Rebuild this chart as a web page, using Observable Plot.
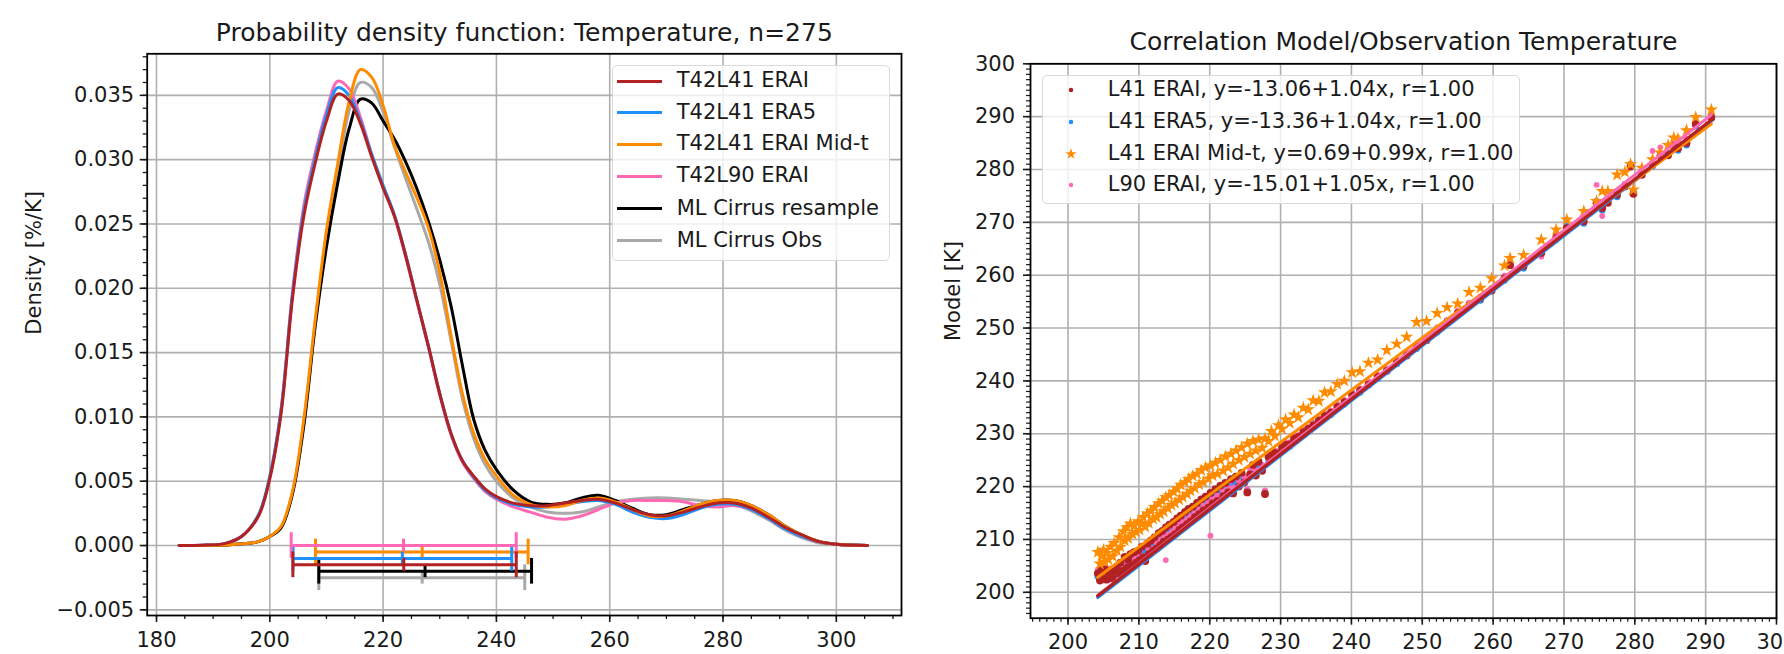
<!DOCTYPE html>
<html><head><meta charset="utf-8">
<script src="https://cdn.jsdelivr.net/npm/d3@7"></script>
<script src="https://cdn.jsdelivr.net/npm/@observablehq/plot@0.6"></script>
<style>
body{margin:0;background:#fff;}
#root{position:relative;width:1784px;height:654px;overflow:hidden;font-family:"DejaVu Sans",sans-serif;background:#fff;}
.plot{position:absolute;top:0;}
.plot svg{display:block;max-width:none;}
.legend{position:absolute;border:1.5px solid #dadada;border-radius:5px;background:rgba(255,255,255,0.8);box-sizing:border-box;}
.item{position:absolute;left:0;height:0;}
.item span{position:absolute;top:0;font-size:21px;line-height:1;color:#1a1a1a;white-space:nowrap;transform:translateY(-52%);}
.item i{position:absolute;display:block;}
</style></head><body><div id="root"></div>
<script>
// ---------- Left panel data ----------
const seriesNames = ["T42L41 ERAI", "T42L41 ERA5", "T42L41 ERAI Mid-t", "T42L90 ERAI", "ML Cirrus resample", "ML Cirrus Obs"];
const seriesColors = ["#b22222", "#1e90ff", "#ff8c00", "#ff69b4", "#000000", "#a9a9a9"];
const tGrid = [184, 188, 192, 195, 198, 200, 202, 204, 206, 208, 210, 212, 214, 216, 218, 220, 222, 224, 226, 228, 230, 232, 234, 236, 238, 240, 243, 246, 249, 252, 255, 258, 261, 264, 267, 270, 273, 276, 279, 282, 285, 288, 291, 294, 297, 300, 305.5];
const pdfERAI = [0, 0.00002, 0.00015, 0.0007, 0.0023, 0.0052, 0.0103, 0.0192, 0.0256, 0.0297, 0.033, 0.0351, 0.0346, 0.0328, 0.0302, 0.0278, 0.0256, 0.0225, 0.019, 0.0155, 0.0118, 0.0087, 0.0066, 0.0054, 0.0044, 0.0038, 0.0033, 0.0031, 0.0031, 0.0033, 0.0035, 0.0036, 0.0033, 0.0028, 0.0024, 0.0023, 0.0026, 0.003, 0.0033, 0.0033, 0.0029, 0.0022, 0.0014, 0.0008, 0.0003, 0.0001, 0];
const pdfERA5 = [0, 0.00002, 0.00015, 0.0007, 0.0024, 0.0054, 0.0106, 0.0195, 0.026, 0.0301, 0.0335, 0.0356, 0.035, 0.033, 0.0304, 0.028, 0.0257, 0.0226, 0.019, 0.0155, 0.0118, 0.0087, 0.0066, 0.0053, 0.0043, 0.0037, 0.0032, 0.003, 0.003, 0.0032, 0.0034, 0.0035, 0.0032, 0.0026, 0.0022, 0.0021, 0.0024, 0.0029, 0.0032, 0.0032, 0.0028, 0.0021, 0.0013, 0.0007, 0.0003, 0.0001, 0];
const pdfMidT = [0, 0.00001, 0.00003, 0.00013, 0.0003, 0.0007, 0.0015, 0.0042, 0.0098, 0.0175, 0.0245, 0.0297, 0.0345, 0.037, 0.0364, 0.0342, 0.0311, 0.029, 0.027, 0.0247, 0.0212, 0.0163, 0.0118, 0.0087, 0.0067, 0.0054, 0.0039, 0.0032, 0.003, 0.0031, 0.0035, 0.0037, 0.0034, 0.0028, 0.0023, 0.0023, 0.0027, 0.0032, 0.0035, 0.0035, 0.0031, 0.0024, 0.0015, 0.0008, 0.0003, 0.0001, 0];
const pdfL90 = [0, 0.00002, 0.00015, 0.0007, 0.0023, 0.0053, 0.0106, 0.0197, 0.0264, 0.0305, 0.0338, 0.0361, 0.0355, 0.0333, 0.0304, 0.0279, 0.0256, 0.0224, 0.0189, 0.0154, 0.0117, 0.0086, 0.0065, 0.0052, 0.0042, 0.0036, 0.003, 0.0026, 0.0022, 0.00205, 0.0023, 0.0028, 0.0033, 0.0035, 0.0035, 0.0035, 0.0034, 0.0031, 0.003, 0.0031, 0.0028, 0.0021, 0.0013, 0.0007, 0.0003, 0.0001, 0];
const pdfResample = [0, 0.00001, 0.00003, 0.00013, 0.0003, 0.0007, 0.0014, 0.004, 0.0093, 0.017, 0.0232, 0.0282, 0.0324, 0.0347, 0.0344, 0.033, 0.0316, 0.0298, 0.0277, 0.0252, 0.0222, 0.0186, 0.014, 0.0098, 0.0074, 0.0059, 0.0043, 0.0034, 0.0032, 0.0033, 0.0037, 0.0039, 0.0035, 0.0029, 0.0024, 0.0024, 0.0028, 0.0032, 0.0035, 0.0035, 0.0031, 0.0024, 0.0015, 0.0008, 0.0003, 0.0001, 0];
const pdfObs = [0, 0.00001, 0.00003, 0.00013, 0.0003, 0.0007, 0.0014, 0.0041, 0.0095, 0.0172, 0.024, 0.029, 0.0338, 0.036, 0.0356, 0.0337, 0.031, 0.0285, 0.0261, 0.0236, 0.0203, 0.0159, 0.0114, 0.0083, 0.0063, 0.005, 0.0037, 0.003, 0.0026, 0.0025, 0.0026, 0.003, 0.0034, 0.0036, 0.0037, 0.0037, 0.0036, 0.0035, 0.0034, 0.0032, 0.0027, 0.002, 0.0012, 0.0006, 0.0002, 0.0001, 0];
// range bars (low, median, high) per series, drawn at a vertical offset
const rangeLow = [204.07, 204.1, 208.07, 203.78, 208.65, 208.65];
const rangeMid = [223.65, 223.4, 226.9, 223.6, 227.4, 226.9];
const rangeHigh = [243.5, 242.7, 245.6, 243.5, 246.2, 245.0];
const rangeOffset = [-0.0015, -0.001, -0.0005, 0, -0.002, -0.0025];
const leftTitle = "Probability density function: Temperature, n=275";
const leftYLabel = "Density [%/K]";
const leftXTicks = [180, 200, 220, 240, 260, 280, 300];
const leftXMinor = d3.range(180, 311, 5);
const leftYTicks = [-0.005, 0, 0.005, 0.01, 0.015, 0.02, 0.025, 0.03, 0.035];
const leftYMinor = d3.range(-5, 39).map(v => v / 1000);

// ---------- Right panel data ----------
const scatterLabels = ["L41 ERAI, y=-13.06+1.04x, r=1.00", "L41 ERA5, y=-13.36+1.04x, r=1.00", "L41 ERAI Mid-t, y=0.69+0.99x, r=1.00", "L90 ERAI, y=-15.01+1.05x, r=1.00"];
const scatterColors = ["#b22222", "#1e90ff", "#ff8c00", "#ff69b4"];
const fitIntercept = [-13.06, -13.36, 0.69, -15.01];
const fitSlope = [1.04, 1.04, 0.99, 1.05];
const obsT = [
204.2, 204.5, 204.7, 205.0, 205.2, 205.5, 205.7, 206.0, 206.3, 206.5,
206.9, 207.2, 207.4, 207.8, 208.0, 208.3, 208.5, 208.8, 209.1, 209.3,
209.6, 209.9, 210.1, 210.4, 210.6, 210.9, 211.2, 211.4, 211.7, 212.0,
212.2, 212.5, 212.8, 213.0, 213.3, 213.5, 213.8, 214.1, 214.3, 214.6,
214.9, 215.1, 215.4, 215.7, 215.9, 216.2, 216.5, 216.8, 217.0, 217.3,
217.6, 217.9, 218.2, 218.5, 218.8, 219.1, 219.4, 219.8, 220.1, 220.4,
220.8, 221.1, 221.5, 221.9, 222.2, 222.6, 223.0, 223.3, 223.7, 224.1,
224.5, 224.9, 225.3, 225.7, 226.1, 226.5, 226.9, 227.4, 227.8, 228.3,
228.7, 229.2, 229.7, 230.2, 230.7, 231.3, 231.9, 232.5, 233.2, 233.9,
234.6, 235.4, 236.2, 237.1, 238.0, 239.0, 240.1, 241.2, 242.4, 243.7,
245.0, 246.4, 247.8, 249.2, 250.6, 252.1, 253.5, 255.0, 256.6, 258.2,
259.8, 261.6, 262.4, 264.3, 266.8, 268.9, 270.4, 272.8, 274.6, 275.4,
276.2, 277.5, 278.6, 279.4, 279.8, 281.0, 282.5, 283.6, 284.7, 285.5,
286.1, 287.3, 288.6, 290.8];
const modelERAI = [
203.6, 202.3, 204.2, 202.6, 204.4, 202.4, 203.5, 204.1, 202.6, 203.9,
204.8, 203.5, 205.6, 204.1, 206.7, 204.6, 206.1, 207.2, 205.0, 207.6,
205.6, 207.9, 206.1, 208.6, 206.6, 205.9, 209.2, 207.2, 209.8, 207.9,
210.4, 208.3, 211.2, 208.9, 211.6, 209.6, 212.3, 210.0, 212.8, 210.5,
213.3, 211.0, 214.0, 211.8, 214.5, 212.3, 215.2, 212.9, 215.8, 213.4,
216.2, 214.2, 216.9, 214.8, 217.6, 215.5, 218.1, 216.0, 218.8, 216.8,
219.5, 217.3, 220.2, 218.2, 220.7, 218.9, 221.4, 218.7, 221.9, 220.0,
222.6, 220.8, 218.9, 222.3, 224.1, 222.1, 224.7, 223.0, 218.6, 225.6,
225.9, 226.4, 226.2, 227.3, 227.9, 228.0, 229.1, 229.4, 230.3, 230.9,
231.6, 232.5, 233.4, 234.0, 235.1, 236.0, 237.3, 238.2, 239.3, 240.8,
241.9, 243.6, 244.8, 246.5, 247.7, 249.6, 251.0, 252.8, 254.2, 255.6,
257.1, 259.4, 261.9, 261.7, 264.2, 267.1, 268.9, 270.2, 273.6, 272.7,
273.7, 275.2, 276.8, 280.6, 275.4, 279.0, 281.0, 282.5, 282.7, 284.4,
284.0, 285.0, 288.6, 289.8];
const modelERA5 = [
203.0, 202.9, 203.5, 203.2, 203.7, 202.8, 202.9, 204.2, 203.3, 203.2,
204.7, 203.5, 205.4, 204.2, 205.8, 205.3, 205.2, 206.3, 205.7, 206.6,
206.4, 207.0, 206.9, 207.7, 207.4, 206.8, 208.2, 208.1, 208.8, 208.8,
209.4, 209.3, 210.2, 209.8, 210.6, 210.5, 211.3, 211.0, 211.8, 211.4,
212.3, 212.0, 213.0, 212.7, 213.5, 213.3, 214.2, 213.9, 214.8, 214.4,
215.2, 215.2, 215.9, 215.8, 216.6, 216.5, 217.1, 217.1, 217.8, 217.8,
218.5, 218.3, 219.2, 219.2, 219.7, 219.9, 220.4, 219.7, 220.9, 221.0,
221.6, 221.8, 219.3, 222.5, 223.1, 223.1, 223.7, 224.0, 219.0, 224.6,
226.3, 226.0, 226.6, 226.9, 228.3, 227.6, 229.5, 229.0, 230.7, 230.5,
232.0, 232.1, 233.8, 233.6, 235.5, 235.6, 237.7, 237.8, 239.7, 240.4,
242.3, 243.2, 245.2, 246.1, 248.1, 249.2, 251.4, 252.4, 254.6, 255.2,
257.5, 259.0, 262.3, 261.3, 264.6, 266.7, 269.3, 269.8, 274.0, 272.3,
274.1, 274.8, 277.2, 281.0, 275.8, 279.4, 280.6, 282.9, 283.1, 284.0,
283.6, 284.6, 288.2, 290.2];
const modelMidT = [
207.6, 205.4, 206.9, 208.0, 205.8, 207.4, 206.2, 208.6, 206.8, 209.3,
207.9, 210.4, 208.6, 211.5, 209.8, 212.3, 210.2, 213.0, 211.0, 212.6,
211.4, 213.4, 211.8, 213.0, 214.2, 212.4, 214.9, 213.1, 215.4, 213.9,
216.1, 214.2, 216.8, 214.8, 217.3, 215.3, 218.0, 215.9, 218.4, 216.5,
219.0, 216.9, 219.6, 217.5, 220.3, 218.0, 220.8, 218.6, 221.4, 219.2,
222.0, 219.7, 222.4, 220.4, 223.1, 220.8, 223.6, 221.5, 224.0, 222.1,
224.5, 222.4, 225.0, 223.0, 225.7, 223.6, 226.2, 224.3, 226.8, 225.0,
227.4, 225.6, 228.1, 226.2, 228.6, 226.8, 228.9, 227.3, 229.1, 228.6,
230.5, 229.6, 231.6, 230.9, 232.7, 232.0, 233.6, 233.1, 234.9, 234.6,
236.3, 236.2, 237.8, 238.0, 239.4, 240.0, 241.6, 241.8, 243.4, 244.0,
245.8, 247.0, 248.3, 251.1, 251.3, 252.8, 253.9, 254.6, 256.8, 257.6,
259.4, 261.8, 263.2, 263.8, 266.7, 268.6, 270.5, 272.1, 274.0, 275.9,
275.9, 279.0, 279.5, 281.0, 276.2, 280.3, 281.9, 283.2, 284.6, 286.0,
285.8, 287.4, 289.9, 291.3];
const modelL90 = [
204.3, 202.0, 203.4, 203.0, 202.2, 203.5, 202.9, 204.5, 202.8, 203.9,
205.0, 204.2, 205.3, 205.6, 206.0, 204.6, 206.2, 206.5, 205.9, 207.2,
206.3, 207.8, 207.2, 208.3, 206.8, 206.9, 208.9, 208.1, 209.6, 208.3,
210.1, 209.2, 210.9, 209.8, 211.3, 210.5, 206.1, 210.9, 212.5, 211.4,
212.9, 212.1, 213.6, 212.6, 214.2, 213.3, 214.9, 213.8, 215.5, 214.4,
215.9, 215.0, 216.6, 215.7, 217.3, 216.4, 217.9, 217.0, 210.7, 217.7,
219.2, 218.3, 219.9, 219.2, 220.5, 219.8, 221.1, 219.8, 221.7, 221.0,
222.3, 221.8, 219.5, 223.3, 223.8, 223.1, 224.5, 224.0, 219.3, 225.4,
226.2, 226.8, 226.6, 227.7, 228.3, 228.4, 229.6, 229.8, 230.8, 231.3,
232.0, 232.9, 233.9, 234.4, 235.6, 236.4, 237.9, 238.6, 239.9, 241.2,
242.3, 244.0, 245.3, 247.0, 248.2, 250.1, 251.5, 253.3, 254.8, 256.0,
257.6, 259.9, 262.5, 262.2, 263.5, 267.8, 270.5, 271.2, 277.1, 271.2,
274.5, 276.0, 277.3, 280.3, 276.0, 279.6, 283.5, 284.2, 284.6, 284.9,
285.0, 285.8, 288.9, 290.3];
const rightTitle = "Correlation Model/Observation Temperature";
const rightYLabel = "Model [K]";
const rightTicks = d3.range(200, 301, 10);
const rightXMinor = d3.range(195, 301, 1);
const rightYMinor = d3.range(196, 301, 1);

// ---------- Build ----------
const root = document.getElementById("root");
const gridStyle = {stroke: "#b0b0b0", strokeOpacity: 1, strokeWidth: 1.6};
const pdfArrays = [pdfERAI, pdfERA5, pdfMidT, pdfL90, pdfResample, pdfObs];
const curveTables = pdfArrays.map((arr, i) => tGrid.map((t, j) => ({t, d: arr[j], s: seriesNames[i]})));
const drawOrder = [5, 4, 3, 1, 2, 0];
const ranges = seriesNames.map((s, i) => ({s, lo: rangeLow[i], mid: rangeMid[i], hi: rangeHigh[i], off: rangeOffset[i], c: seriesColors[i]}));
const rangeOrder = [5, 4, 2, 1, 3, 0];

const leftMarks = [
  Plot.gridX(leftXTicks, gridStyle),
  Plot.gridY(leftYTicks, gridStyle)
];
for (const i of drawOrder) {
  leftMarks.push(Plot.line(curveTables[i], {x: "t", y: "d", stroke: seriesColors[i], strokeWidth: 3, curve: "catmull-rom"}));
}
for (const i of rangeOrder) {
  const r = [ranges[i]];
  leftMarks.push(
    Plot.ruleY(r, {y: "off", x1: "lo", x2: "hi", stroke: "c", strokeWidth: 3}),
    Plot.ruleX(r, {x: "lo", y1: d => d.off - 0.001, y2: d => d.off + 0.001, stroke: "c", strokeWidth: 3}),
    Plot.ruleX(r, {x: "hi", y1: d => d.off - 0.001, y2: d => d.off + 0.001, stroke: "c", strokeWidth: 3}),
    Plot.ruleX(r, {x: "mid", y1: d => d.off - 0.0005, y2: d => d.off + 0.0005, stroke: "c", strokeWidth: 3})
  );
}
leftMarks.push(
  Plot.axisX(leftXTicks, {tickSize: 7, tickPadding: 10, strokeWidth: 1.6, fontSize: 21, label: null}),
  Plot.axisX(leftXMinor, {tickSize: 4, strokeWidth: 1.3, text: null, label: null}),
  Plot.axisY(leftYTicks, {tickSize: 7, tickPadding: 6, strokeWidth: 1.6, fontSize: 21, tickFormat: d3.format(".3f"), label: null}),
  Plot.axisY(leftYMinor, {tickSize: 4, strokeWidth: 1.3, text: null, label: null}),
  Plot.frame({stroke: "#000", strokeWidth: 1.8}),
  Plot.text([leftTitle], {frameAnchor: "top", lineAnchor: "middle", dy: -21.3, fontSize: 25, fill: "#1a1a1a"}),
  Plot.text([leftYLabel], {frameAnchor: "left", lineAnchor: "middle", dx: -112.7, rotate: -90, fontSize: 21, fill: "#1a1a1a"})
);

const left = Plot.plot({
  width: 905, height: 654,
  marginLeft: 146.7, marginRight: 4, marginTop: 53.3, marginBottom: 39,
  x: {domain: [178.36, 311.5]},
  y: {domain: [-0.00544, 0.03823]},
  style: {fontFamily: "DejaVu Sans", fontSize: "21px", color: "#1a1a1a", background: "transparent", overflow: "visible"},
  marks: leftMarks
});

// right panel
const modelArrays = [modelERAI, modelERA5, modelMidT, modelL90];
const scatterTables = modelArrays.map((arr, i) => obsT.map((o, j) => ({o, m: arr[j]})));
const tMin = d3.min(obsT), tMax = d3.max(obsT);
const fitTables = fitIntercept.map((a, i) => [tMin, tMax].map(o => ({o, m: a + fitSlope[i] * o})));
const dotR = [3.9, 3.3, 4.2, 2.9];
const rightMarks = [
  Plot.gridX(rightTicks, gridStyle),
  Plot.gridY(rightTicks, gridStyle)
];
for (const i of [1, 3, 0, 2]) {
  rightMarks.push(Plot.dot(scatterTables[i], {x: "o", y: "m", r: dotR[i], fill: scatterColors[i], stroke: "none", symbol: i === 2 ? "star" : "circle"}));
}
for (const i of [1, 2, 3, 0]) {
  rightMarks.push(Plot.line(fitTables[i], {x: "o", y: "m", stroke: scatterColors[i], strokeWidth: i === 0 ? 3.4 : 3}));
}
rightMarks.push(
  Plot.axisX(rightTicks, {tickSize: 7, tickPadding: 8.7, strokeWidth: 1.6, fontSize: 21, label: null}),
  Plot.axisX(rightXMinor, {tickSize: 4, strokeWidth: 1.2, text: null, label: null}),
  Plot.axisY(rightTicks, {tickSize: 7, tickPadding: 8.5, strokeWidth: 1.6, fontSize: 21, label: null}),
  Plot.axisY(rightYMinor, {tickSize: 4, strokeWidth: 1.2, text: null, label: null}),
  Plot.frame({stroke: "#000", strokeWidth: 1.8}),
  Plot.text([rightTitle], {frameAnchor: "top", lineAnchor: "middle", dy: -22, fontSize: 25, fill: "#1a1a1a"}),
  Plot.text([rightYLabel], {frameAnchor: "left", lineAnchor: "middle", dx: -77, rotate: -90, fontSize: 21, fill: "#1a1a1a"})
);
const right = Plot.plot({
  width: 879, height: 654,
  marginLeft: 125, marginRight: 8, marginTop: 63.3, marginBottom: 36.3,
  x: {domain: [194.7, 300]},
  y: {domain: [195.1, 300]},
  style: {fontFamily: "DejaVu Sans", fontSize: "21px", color: "#1a1a1a", background: "transparent", overflow: "visible"},
  marks: rightMarks
});

function place(node, x, w) {
  const div = document.createElement("div");
  div.className = "plot";
  div.style.left = x + "px";
  div.style.width = w + "px";
  div.style.height = "654px";
  div.appendChild(node);
  root.appendChild(div);
}
place(left, 0, 905);
place(right, 905, 879);

// legends
function legend(x, y, w, h, rows) {
  const box = document.createElement("div");
  box.className = "legend";
  Object.assign(box.style, {left: x + "px", top: y + "px", width: w + "px", height: h + "px"});
  for (const r of rows) {
    const it = document.createElement("div");
    it.className = "item";
    it.style.top = r.cy + "px";
    it.appendChild(r.marker);
    const sp = document.createElement("span");
    sp.textContent = r.label;
    sp.style.left = r.tx + "px";
    it.appendChild(sp);
    box.appendChild(it);
  }
  root.appendChild(box);
}
const leftRowY = [15, 46.7, 78.3, 110, 142.7, 174.7];
legend(611.7, 65, 278.3, 195.7, seriesNames.map((s, i) => {
  const m = document.createElement("i");
  Object.assign(m.style, {left: "4px", top: "-1.5px", width: "45px", height: "3px", background: seriesColors[i]});
  return {cy: leftRowY[i], marker: m, label: s, tx: 64};
}));
const rightRowY = [14, 45.7, 78.3, 109];
legend(1041.7, 75, 478, 129, scatterLabels.map((s, i) => {
  const ns = "http://www.w3.org/2000/svg";
  const svg = document.createElementNS(ns, "svg");
  svg.setAttribute("width", 20); svg.setAttribute("height", 20);
  svg.style.position = "absolute"; svg.style.left = "18px"; svg.style.top = "-10px";
  const p = document.createElementNS(ns, "path");
  p.setAttribute("d", d3.symbol(i === 2 ? d3.symbolStar : d3.symbolCircle, i === 2 ? 40 : 16)());
  p.setAttribute("transform", "translate(10,10)");
  p.setAttribute("fill", scatterColors[i]);
  svg.appendChild(p);
  return {cy: rightRowY[i], marker: svg, label: s, tx: 65};
}));
</script></body></html>
